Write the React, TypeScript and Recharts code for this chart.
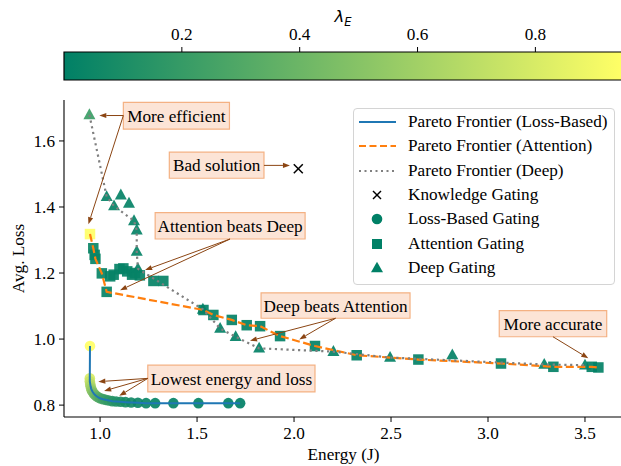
import React from 'react';
import {
  ComposedChart,
  Scatter,
  Line,
  XAxis,
  YAxis,
  ReferenceArea,
  ReferenceLine,
  Legend,
} from 'recharts';

// ---------------- DATA ----------------
const LAMBDA_MAX = 0.947;

// Loss-Based Gating points: energy (J), avg loss, lambda_E
const lossBased = [
  { x: 0.948, y: 0.979, lam: 0.947 },
  { x: 0.947, y: 0.881, lam: 0.8 },
  { x: 0.947, y: 0.872, lam: 0.74 },
  { x: 0.949, y: 0.864, lam: 0.69 },
  { x: 0.951, y: 0.857, lam: 0.64 },
  { x: 0.954, y: 0.85, lam: 0.59 },
  { x: 0.958, y: 0.844, lam: 0.54 },
  { x: 0.963, y: 0.839, lam: 0.49 },
  { x: 0.969, y: 0.834, lam: 0.45 },
  { x: 0.976, y: 0.83, lam: 0.41 },
  { x: 0.984, y: 0.826, lam: 0.37 },
  { x: 0.993, y: 0.823, lam: 0.33 },
  { x: 1.003, y: 0.82, lam: 0.29 },
  { x: 1.015, y: 0.818, lam: 0.25 },
  { x: 1.029, y: 0.816, lam: 0.22 },
  { x: 1.045, y: 0.814, lam: 0.19 },
  { x: 1.063, y: 0.812, lam: 0.16 },
  { x: 1.083, y: 0.811, lam: 0.13 },
  { x: 1.106, y: 0.81, lam: 0.11 },
  { x: 1.131, y: 0.809, lam: 0.09 },
  { x: 1.16, y: 0.808, lam: 0.07 },
  { x: 1.195, y: 0.807, lam: 0.05 },
  { x: 1.237, y: 0.806, lam: 0.04 },
  { x: 1.284, y: 0.806, lam: 0.03 },
  { x: 1.378, y: 0.806, lam: 0.02 },
  { x: 1.507, y: 0.806, lam: 0.015 },
  { x: 1.661, y: 0.806, lam: 0.01 },
  { x: 1.722, y: 0.806, lam: 0.005 },
];

// Attention Gating points
const attention = [
  { x: 0.948, y: 1.318, lam: 0.947 },
  { x: 0.965, y: 1.275, lam: 0.04 },
  { x: 0.972, y: 1.255, lam: 0.03 },
  { x: 0.976, y: 1.243, lam: 0.03 },
  { x: 1.009, y: 1.199, lam: 0.03 },
  { x: 1.034, y: 1.143, lam: 0.02 },
  { x: 1.052, y: 1.19, lam: 0.02 },
  { x: 1.07, y: 1.195, lam: 0.02 },
  { x: 1.1, y: 1.212, lam: 0.02 },
  { x: 1.12, y: 1.214, lam: 0.02 },
  { x: 1.14, y: 1.205, lam: 0.02 },
  { x: 1.165, y: 1.195, lam: 0.02 },
  { x: 1.18, y: 1.2, lam: 0.02 },
  { x: 1.205, y: 1.193, lam: 0.02 },
  { x: 1.275, y: 1.176, lam: 0.02 },
  { x: 1.326, y: 1.176, lam: 0.02 },
  { x: 1.533, y: 1.088, lam: 0.01 },
  { x: 1.584, y: 1.073, lam: 0.01 },
  { x: 1.679, y: 1.058, lam: 0.01 },
  { x: 1.756, y: 1.042, lam: 0.01 },
  { x: 1.825, y: 1.039, lam: 0.01 },
  { x: 1.928, y: 1.009, lam: 0.01 },
  { x: 2.108, y: 0.979, lam: 0.01 },
  { x: 2.323, y: 0.951, lam: 0.01 },
  { x: 2.641, y: 0.938, lam: 0.01 },
  { x: 3.067, y: 0.926, lam: 0.01 },
  { x: 3.337, y: 0.916, lam: 0.01 },
  { x: 3.535, y: 0.916, lam: 0.01 },
  { x: 3.569, y: 0.914, lam: 0.01 },
];

// Deep Gating points
const deep = [
  { x: 0.945, y: 1.679, lam: 0.22 },
  { x: 1.034, y: 1.431, lam: 0.02 },
  { x: 1.072, y: 1.403, lam: 0.02 },
  { x: 1.107, y: 1.436, lam: 0.02 },
  { x: 1.149, y: 1.411, lam: 0.02 },
  { x: 1.175, y: 1.358, lam: 0.02 },
  { x: 1.189, y: 1.33, lam: 0.02 },
  { x: 1.189, y: 1.265, lam: 0.02 },
  { x: 1.195, y: 1.213, lam: 0.02 },
  { x: 1.53, y: 1.09, lam: 0.01 },
  { x: 1.619, y: 1.032, lam: 0.01 },
  { x: 1.699, y: 1.007, lam: 0.01 },
  { x: 1.82, y: 0.972, lam: 0.01 },
  { x: 2.203, y: 0.962, lam: 0.01 },
  { x: 2.495, y: 0.944, lam: 0.01 },
  { x: 2.816, y: 0.952, lam: 0.01 },
  { x: 3.29, y: 0.923, lam: 0.01 },
  { x: 3.5, y: 0.921, lam: 0.01 },
];

// Knowledge Gating
const knowledge = [{ x: 2.022, y: 1.516 }];

// Pareto frontiers
const lossFrontier = lossBased.map((p) => ({ x: p.x, y: p.y }));

const attentionFrontier = [
  { x: 0.948, y: 1.318 },
  { x: 0.965, y: 1.275 },
  { x: 0.972, y: 1.255 },
  { x: 0.976, y: 1.243 },
  { x: 1.009, y: 1.199 },
  { x: 1.034, y: 1.143 },
  { x: 1.533, y: 1.088 },
  { x: 1.584, y: 1.073 },
  { x: 1.679, y: 1.058 },
  { x: 1.756, y: 1.042 },
  { x: 1.825, y: 1.039 },
  { x: 1.928, y: 1.009 },
  { x: 2.108, y: 0.979 },
  { x: 2.323, y: 0.951 },
  { x: 2.641, y: 0.938 },
  { x: 3.067, y: 0.926 },
  { x: 3.337, y: 0.916 },
  { x: 3.535, y: 0.916 },
  { x: 3.569, y: 0.914 },
];

const deepFrontier = [
  { x: 0.945, y: 1.679 },
  { x: 1.034, y: 1.431 },
  { x: 1.072, y: 1.403 },
  { x: 1.175, y: 1.358 },
  { x: 1.189, y: 1.33 },
  { x: 1.189, y: 1.265 },
  { x: 1.195, y: 1.213 },
  { x: 1.53, y: 1.09 },
  { x: 1.619, y: 1.032 },
  { x: 1.699, y: 1.007 },
  { x: 1.82, y: 0.972 },
  { x: 2.203, y: 0.962 },
  { x: 2.495, y: 0.944 },
  { x: 3.29, y: 0.923 },
  { x: 3.5, y: 0.921 },
];

// Ticks
const energyTicks = [1.0, 1.5, 2.0, 2.5, 3.0, 3.5];
const lossTicks = [0.8, 1.0, 1.2, 1.4, 1.6];
const lambdaTicks = [0.2, 0.4, 0.6, 0.8];

// Annotations (data coordinates)
const annotations = [
  {
    text: 'More efficient',
    box: [1.12, 1.667, 1.636, 1.717],
    from: [1.12, 1.677],
    to: [
      [0.996, 1.677],
      [0.94, 1.348],
    ],
  },
  {
    text: 'Bad solution',
    box: [1.357, 1.845, 1.487, 1.566],
    from: [1.845, 1.526],
    to: [[1.979, 1.526]],
  },
  {
    text: 'Attention beats Deep',
    box: [1.284, 2.057, 1.303, 1.383],
    from: [1.67, 1.303],
    to: [
      [1.232, 1.209],
      [1.103, 1.148],
    ],
  },
  {
    text: 'Deep beats Attention',
    box: [1.83, 2.598, 1.063, 1.14],
    from: [2.214, 1.063],
    to: [
      [1.773, 0.995],
      [2.027, 0.999],
    ],
  },
  {
    text: 'Lowest energy and loss',
    box: [1.246, 2.108, 0.84, 0.921],
    from: [1.246, 0.881],
    to: [
      [0.991, 0.871],
      [1.021, 0.843],
      [1.099, 0.828],
    ],
  },
  {
    text: 'More accurate',
    box: [3.058, 3.612, 1.007, 1.086],
    from: [3.335, 1.007],
    to: [[3.517, 0.942]],
  },
];

// ---------------- STYLE HELPERS ----------------
const X_DOMAIN: [number, number] = [0.814, 3.696];
const Y_DOMAIN: [number, number] = [0.764, 1.724];
const FONT = '"Liberation Serif", "DejaVu Serif", serif';
const FS = 17.2;
const ARROW = '#8b4513';

function summer(lam: number): string {
  const t = Math.max(0, Math.min(1, lam / LAMBDA_MAX));
  const r = Math.round(255 * t);
  const g = Math.round(255 * (0.5 + 0.5 * t));
  const b = Math.round(255 * 0.4);
  return `rgb(${r},${g},${b})`;
}
const BASE = summer(0);

const CircleShape = (props: any) => {
  const { cx, cy, payload } = props;
  if (cx == null || cy == null) return null;
  return <circle cx={cx} cy={cy} r={5.3} fill={summer(payload.lam)} fillOpacity={0.92} />;
};
const SquareShape = (props: any) => {
  const { cx, cy, payload } = props;
  if (cx == null || cy == null) return null;
  const s = 10.5;
  return (
    <rect x={cx - s / 2} y={cy - s / 2} width={s} height={s} fill={summer(payload.lam)} fillOpacity={0.92} />
  );
};
const TriangleShape = (props: any) => {
  const { cx, cy, payload } = props;
  if (cx == null || cy == null) return null;
  const pts = `${cx},${cy - 6.5} ${cx + 6},${cy + 4.3} ${cx - 6},${cy + 4.3}`;
  return <polygon points={pts} fill={summer(payload.lam)} fillOpacity={0.92} />;
};
const XShape = (props: any) => {
  const { cx, cy } = props;
  if (cx == null || cy == null) return null;
  const h = 4.5;
  return (
    <g stroke="#000" strokeWidth={1.5}>
      <line x1={cx - h} y1={cy - h} x2={cx + h} y2={cy + h} />
      <line x1={cx - h} y1={cy + h} x2={cx + h} y2={cy - h} />
    </g>
  );
};

const ArrowShape = (props: any) => {
  const { x1, y1, x2, y2 } = props;
  if ([x1, y1, x2, y2].some((v) => v == null || isNaN(v))) return null;
  const dx = x2 - x1;
  const dy = y2 - y1;
  const len = Math.hypot(dx, dy) || 1;
  const ux = dx / len;
  const uy = dy / len;
  const hl = 7;
  const hw = 2.6;
  const bx = x2 - ux * hl;
  const by = y2 - uy * hl;
  return (
    <g>
      <line x1={x1} y1={y1} x2={bx} y2={by} stroke={ARROW} strokeWidth={1} />
      <polygon
        points={`${x2},${y2} ${bx - uy * hw},${by + ux * hw} ${bx + uy * hw},${by - ux * hw}`}
        fill={ARROW}
      />
    </g>
  );
};

const legendItems = [
  { label: 'Pareto Frontier (Loss-Based)', kind: 'line', color: '#1f77b4', dash: '' },
  { label: 'Pareto Frontier (Attention)', kind: 'line', color: '#ff7f0e', dash: '7 3.5' },
  { label: 'Pareto Frontier (Deep)', kind: 'line', color: '#808080', dash: '2 3.5' },
  { label: 'Knowledge Gating', kind: 'x', color: '#000', dash: '' },
  { label: 'Loss-Based Gating', kind: 'circle', color: BASE, dash: '' },
  { label: 'Attention Gating', kind: 'square', color: BASE, dash: '' },
  { label: 'Deep Gating', kind: 'triangle', color: BASE, dash: '' },
];

const renderLegend = () => (
  <div
    style={{
      width: 262,
      height: 177,
      boxSizing: 'border-box',
      border: '1px solid #d4d4d4',
      borderRadius: 4,
      background: 'rgba(255,255,255,0.85)',
      paddingTop: 1,
      fontFamily: FONT,
    }}
  >
    {legendItems.map((it) => (
      <div key={it.label} style={{ display: 'flex', alignItems: 'center', height: 24.3 }}>
        <svg width={37} height={24} style={{ marginLeft: 5, flex: 'none' }}>
          {it.kind === 'line' && (
            <line x1={0} y1={12} x2={37} y2={12} stroke={it.color} strokeWidth={2} strokeDasharray={it.dash || undefined} />
          )}
          {it.kind === 'x' && (
            <g stroke="#000" strokeWidth={1.5}>
              <line x1={14} y1={8} x2={22} y2={16} />
              <line x1={14} y1={16} x2={22} y2={8} />
            </g>
          )}
          {it.kind === 'circle' && <circle cx={18} cy={12} r={5.3} fill={it.color} />}
          {it.kind === 'square' && <rect x={13} y={7} width={10} height={10} fill={it.color} />}
          {it.kind === 'triangle' && <polygon points="18,5.8 24,16.3 12,16.3" fill={it.color} />}
        </svg>
        <span style={{ marginLeft: 12, fontSize: FS, lineHeight: '24px', color: '#000', whiteSpace: 'nowrap' }}>
          {it.label}
        </span>
      </div>
    ))}
  </div>
);

const YLabel = (props: any) => {
  const vb = props.viewBox || {};
  const cx = 18;
  const cy = (vb.y || 0) + (vb.height || 0) / 2;
  return (
    <text
      x={cx}
      y={cy}
      transform={`rotate(-90 ${cx} ${cy})`}
      textAnchor="middle"
      dominantBaseline="central"
      fontSize={FS}
      fill="#000"
      fontFamily={FONT}
    >
      Avg. Loss
    </text>
  );
};

const LambdaLabel = (props: any) => {
  const vb = props.viewBox || {};
  const cx = (vb.x || 0) + (vb.width || 0) / 2;
  return (
    <text x={cx} y={22} textAnchor="middle" fill="#000" fontFamily='"DejaVu Sans", sans-serif'>
      <tspan fontStyle="italic" fontSize={16.5}>λ</tspan>
      <tspan fontStyle="italic" fontSize={11.5} dy={3.5}>E</tspan>
    </text>
  );
};

export default function App() {
  return (
    <div
      style={{
        position: 'absolute',
        left: 0,
        top: 0,
        width: 621,
        height: 466,
        overflow: 'hidden',
        background: '#fff',
        fontFamily: FONT,
      }}
    >
      <svg width={0} height={0} style={{ position: 'absolute' }}>
        <defs>
          <linearGradient id="summerGrad" x1="0" y1="0" x2="1" y2="0">
            <stop offset="0%" stopColor="rgb(0,128,102)" />
            <stop offset="100%" stopColor="rgb(255,255,102)" />
          </linearGradient>
        </defs>
      </svg>

      {/* Colorbar */}
      <div style={{ position: 'absolute', left: 0, top: 0 }}>
        <ComposedChart width={700} height={100} margin={{ top: 0, right: 78, bottom: 20, left: 64 }}>
          <XAxis
            type="number"
            dataKey="x"
            domain={[0, LAMBDA_MAX]}
            allowDataOverflow
            ticks={lambdaTicks}
            orientation="top"
            height={52}
            tickSize={5}
            tickMargin={7}
            axisLine={false}
            tickLine={{ stroke: '#000', strokeWidth: 1 }}
            tick={{ fontSize: FS, fill: '#000', fontFamily: FONT }}
            tickFormatter={(v: number) => v.toFixed(1)}
            label={<LambdaLabel />}
          />
          <YAxis type="number" domain={[0, 1]} hide allowDataOverflow width={0} />
          <ReferenceArea
            x1={0}
            x2={LAMBDA_MAX}
            y1={0}
            y2={1}
            fill="url(#summerGrad)"
            fillOpacity={1}
            stroke="#000"
            strokeWidth={1.2}
            ifOverflow="visible"
          />
        </ComposedChart>
      </div>

      {/* Main chart */}
      <div style={{ position: 'absolute', left: 0, top: 0 }}>
        <ComposedChart width={660} height={466} margin={{ top: 100, right: 37, bottom: 0, left: 0 }}>
          <XAxis
            type="number"
            dataKey="x"
            domain={X_DOMAIN}
            allowDataOverflow
            ticks={energyTicks}
            height={49}
            tickSize={5}
            tickMargin={5}
            axisLine={{ stroke: '#000', strokeWidth: 1.1 }}
            tickLine={{ stroke: '#000', strokeWidth: 1 }}
            tick={{ fontSize: FS, fill: '#000', fontFamily: FONT }}
            tickFormatter={(v: number) => v.toFixed(1)}
            label={{ value: 'Energy (J)', position: 'insideBottom', offset: 6, fontSize: FS, fill: '#000', fontFamily: FONT }}
          />
          <XAxis
            xAxisId="top"
            type="number"
            dataKey="x"
            domain={X_DOMAIN}
            allowDataOverflow
            orientation="top"
            height={0}
            tick={false}
            tickLine={false}
            axisLine={{ stroke: '#000', strokeWidth: 1.1 }}
          />
          <YAxis
            type="number"
            dataKey="y"
            domain={Y_DOMAIN}
            allowDataOverflow
            ticks={lossTicks}
            width={64}
            tickSize={5}
            tickMargin={4}
            axisLine={{ stroke: '#000', strokeWidth: 1.1 }}
            tickLine={{ stroke: '#000', strokeWidth: 1 }}
            tick={{ fontSize: FS, fill: '#000', fontFamily: FONT }}
            tickFormatter={(v: number) => v.toFixed(1)}
            label={<YLabel />}
          />

          <Scatter name="Loss-Based Gating" data={lossBased} dataKey="y" shape={<CircleShape />} isAnimationActive={false} legendType="none" />
          <Scatter name="Attention Gating" data={attention} dataKey="y" shape={<SquareShape />} isAnimationActive={false} legendType="none" />
          <Scatter name="Deep Gating" data={deep} dataKey="y" shape={<TriangleShape />} isAnimationActive={false} legendType="none" />
          <Scatter name="Knowledge Gating" data={knowledge} dataKey="y" shape={<XShape />} isAnimationActive={false} legendType="none" />

          <Line
            data={lossFrontier}
            dataKey="y"
            type="linear"
            stroke="#1f77b4"
            strokeWidth={2}
            dot={false}
            activeDot={false}
            isAnimationActive={false}
            legendType="none"
            {...({ zIndex: 700 } as any)}
          />
          <Line
            data={attentionFrontier}
            dataKey="y"
            type="linear"
            stroke="#ff7f0e"
            strokeWidth={2.2}
            strokeDasharray="8 3.5"
            dot={false}
            activeDot={false}
            isAnimationActive={false}
            legendType="none"
            {...({ zIndex: 700 } as any)}
          />
          <Line
            data={deepFrontier}
            dataKey="y"
            type="linear"
            stroke="#808080"
            strokeWidth={2.2}
            strokeDasharray="2.2 3.6"
            dot={false}
            activeDot={false}
            isAnimationActive={false}
            legendType="none"
            {...({ zIndex: 700 } as any)}
          />

          {annotations.map((a) => (
            <ReferenceArea
              key={a.text}
              x1={a.box[0]}
              x2={a.box[1]}
              y1={a.box[2]}
              y2={a.box[3]}
              fill="#fce4d6"
              fillOpacity={1}
              stroke="#f4b183"
              strokeWidth={1.2}
              ifOverflow="visible"
              label={{ value: a.text, position: 'center', fontSize: FS, fill: '#000', fontFamily: FONT }}
              {...({ zIndex: 800 } as any)}
            />
          ))}
          {annotations.flatMap((a) =>
            a.to.map((t, i) => (
              <ReferenceLine
                key={a.text + i}
                segment={[
                  { x: a.from[0], y: a.from[1] },
                  { x: t[0], y: t[1] },
                ]}
                shape={<ArrowShape />}
                ifOverflow="visible"
                {...({ zIndex: 850 } as any)}
              />
            ))
          )}

          <Legend
            layout="vertical"
            align="center"
            verticalAlign="middle"
            content={renderLegend}
            wrapperStyle={{ left: 353, top: 108, width: 262, height: 177 }}
          />
        </ComposedChart>
      </div>
    </div>
  );
}
